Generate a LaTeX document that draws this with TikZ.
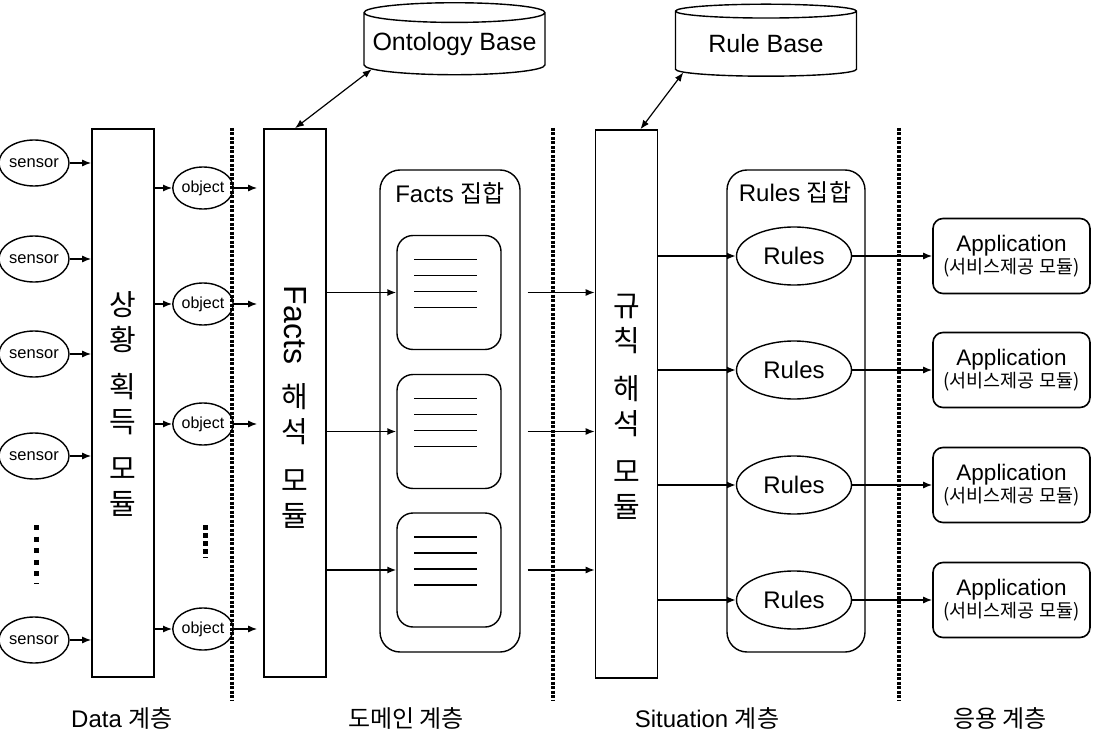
\documentclass[tikz,border=0pt]{standalone}
\usepackage{fontspec}
\setmainfont{Liberation Sans}
\newfontfamily\kr{Noto Sans CJK KR}
\usetikzlibrary{arrows.meta,shapes.geometric,positioning}
\newcommand{\fsz}[2]{\fontsize{#1}{#2}\selectfont}

\begin{document}
\begin{tikzpicture}[x=1pt,y=-1pt,
	arr/.style={-{Latex[length=9pt,width=7pt]},line width=1.4pt},
	dbl/.style={{Latex[length=9pt,width=7pt]}-{Latex[length=9pt,width=7pt]},line width=1.2pt},
	sep/.style={line width=3.5pt,dash pattern=on 3pt off 1.5pt},
	vdots/.style={line width=5pt,dash pattern=on 5pt off 6.6pt},
	sens/.style={ellipse,draw,line width=1.4pt,minimum width=64pt,minimum height=46pt,inner sep=0pt,font=\fsz{16.5}{18}},
	obj/.style={ellipse,draw,line width=1.4pt,minimum width=57pt,minimum height=42pt,inner sep=0pt,font=\fsz{16}{18}},
	module/.style={draw,line width=1.6pt,minimum width=62pt,minimum height=548pt,inner sep=0pt},
	vtext/.style={align=center,font=\kr\fsz{29}{35.5}},
	db/.style={cylinder,shape border rotate=90,draw,line width=1.4pt,aspect=0.12,minimum width=181pt,minimum height=72pt,inner sep=0pt,font=\fsz{25}{28}},
	grp/.style={draw,rounded corners=20pt,line width=1.4pt,minimum width=140pt,minimum height=482pt},
	doc/.style={draw,rounded corners=16pt,line width=1.4pt,minimum width=104pt,minimum height=114pt},
	rul/.style={ellipse,draw,line width=1.4pt,minimum width=115pt,minimum height=58pt,inner sep=0pt,font=\fsz{24}{26}},
	app/.style={draw,rounded corners=10pt,line width=1.6pt,minimum width=157pt,minimum height=75pt,inner sep=0pt,align=center,font=\fsz{22.5}{24}},
	lbl/.style={font=\fsz{24}{28}}]
	\useasboundingbox (0,0) rectangle (1093,733);

	% layer borders
	\draw[sep] (232,128) -- (232,700);
	\draw[sep] (553,128) -- (553,700);
	\draw[sep] (899,128) -- (899,700);

	% data layer
	\foreach \i/\y in {1/163,2/259,3/354,4/456,5/640}
		\node[sens] (s\i) at (34,\y) {sensor};
	\draw[vdots] (36,525) -- (36,584);
	\node[module] (get) at (123,403) {};
	\node[vtext] (gettxt) at (123,404) {상\\황\\[11pt]획\\득\\[11pt]모\\듈};
	\foreach \i in {1,...,5}
		\draw[arr] (s\i) -- (get.west |- s\i);
	\foreach \i/\y in {1/188,2/304,3/424,4/629}
		\node[obj] (o\i) at (203,\y) {object};
	\draw[vdots,dash pattern=on 5pt off 3pt] (205,525) -- (205,558);

	% domain layer
	\node[module] (fint) at (295,403) {};
	\node[font=\fsz{32}{36},rotate=-90] (finttxt) at (295,325) {Facts};
	\node[vtext] (fintkr) at (295,456) {해\\석\\[13pt]모\\듈};
	\foreach \i in {1,...,4} {
		\draw[arr] (get.east |- o\i) -- (o\i);
		\draw[arr,shorten >=6pt] (o\i) -- (fint.west |- o\i);
	}
	\node[db] (onto) at (454.5,44) {Ontology Base};
	\draw[dbl] (fint.north) -- (onto.197);
	\node[grp] (factset) at (450,411) {};
	\node[lbl] (facttitle) at (450,193) {Facts {\kr 집합}};
	\foreach \i/\y in {1/292.5,2/431.5,3/570} {
		\node[doc] (d\i) at (449,\y) {};
		\foreach \k in {-33,-17,-1,15}
			\draw[line width=1.2pt] (414,{\y+\k}) -- (477,{\y+\k});
		\draw[arr] (fint.east |- d\i) -- (d\i);
	}

	% situation layer
	\node[module] (rint) at (626.5,404) {};
	\node[vtext] (rinttxt) at (626.5,407) {규\\칙\\[12pt]해\\석\\[12pt]모\\듈};
	\foreach \i in {1,2,3}
		\draw[arr] ([xshift=7pt]factset.east |- d\i) -- (rint.west |- d\i);
	\node[db] (rulebase) at (766,44) {Rule Base};
	\draw[dbl] ([xshift=14pt]rint.north) -- (rulebase.199);
	\node[grp,minimum width=138pt] (ruleset) at (796,411) {};
	\node[lbl] (ruletitle) at (795,192) {Rules {\kr 집합}};

	% application layer
	\foreach \i/\y in {1/256,2/370,3/485,4/600} {
		\node[rul] (r\i) at (794,\y) {Rules};
		\node[app] (a\i) at (1011.5,\y) {Application\\[-2pt]{\kr\fsz{18.5}{21}(서비스제공 모듈)}};
		\draw[arr] (rint.east |- r\i) -- (r\i);
		\draw[arr] (r\i) -- (a\i);
	}

	% layer names
	\node[lbl] (l1) at (122,718) {Data {\kr 계층}};
	\node[lbl,font=\kr\fsz{24}{28}] (l2) at (406,718) {도메인 계층};
	\node[lbl] (l3) at (707,718) {Situation {\kr 계층}};
	\node[lbl,font=\kr\fsz{24}{28}] (l4) at (1000,718) {응용 계층};
\end{tikzpicture}
\end{document}
